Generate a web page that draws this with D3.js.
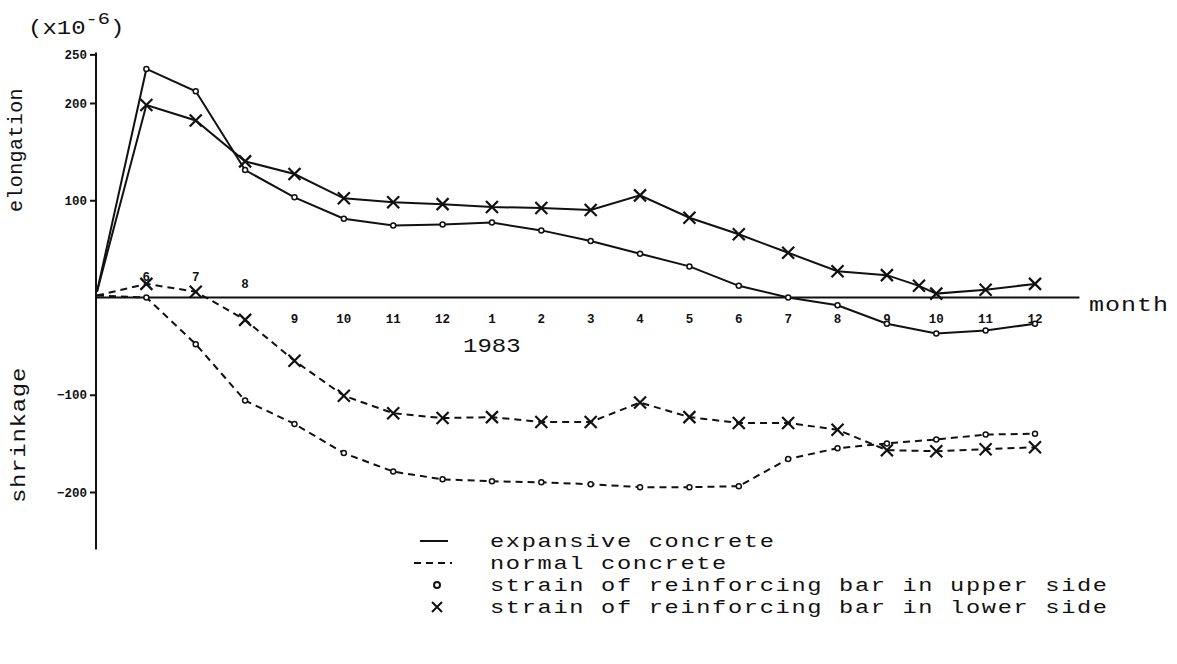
<!DOCTYPE html>
<html>
<head>
<meta charset="utf-8">
<script src="https://cdn.jsdelivr.net/npm/d3@7"></script>
<style>
  html, body { margin: 0; padding: 0; background: #fff; }
  svg { display: block; }
  text { font-family: "Liberation Mono", "DejaVu Sans Mono", monospace; fill: #111; }
</style>
</head>
<body>
<svg id="chart" width="1177" height="664"></svg>
<script>
// ---- data ----
// month index: 0 = start (May 1982), 1 = June 1982 ... 19 = Dec 1983
const monthLabels = ["6","7","8","9","10","11","12","1","2","3","4","5","6","7","8","9","10","11","12"];
const monthIndex  = d3.range(1, 20);
const yTicks = [250, 200, 100, -100, -200];

const expUpperX = d3.range(0, 20);
const expUpper  = [6, 235, 212, 131, 103, 81, 74, 75, 77, 69, 58, 45, 32, 12, 0, -8, -27, -37, -34, -27];

const expLowerX = [0,1,2,3,4,5,6,7,8,9,10,11,12,13,14,15,16,16.65,17,18,19];
const expLower  = [6, 198, 182, 140, 127, 102, 98, 96, 93, 92, 90, 105, 82, 65, 46, 27, 23, 12, 4, 8, 14];

const normUpperX = d3.range(0, 20);
const normUpper  = [2, 0, -48, -106, -130, -160, -179, -187, -189, -190, -192, -195, -195, -194, -166, -155, -150, -146, -141, -140];

const normLowerX = d3.range(0, 20);
const normLower  = [2, 14, 6, -23, -65, -101, -119, -124, -123, -128, -128, -108, -123, -129, -129, -136, -157, -158, -156, -154];

const legendItems = ["expansive concrete", "normal concrete",
  "strain of reinforcing bar in upper side", "strain of reinforcing bar in lower side"];

// ---- drawing ----
const svg = d3.select("#chart");
const x = d3.scaleLinear().domain([0, 19]).range([97, 1035]);
const y = d3.scaleLinear().domain([-200, 200]).range([492, 103]);
const ink = "#111";

// typewriter-like text helper: horizontally stretched monospace
function tw(parent, px, py, str, size, sx, ls, anchor) {
  return parent.append("text")
    .attr("transform", `translate(${px},${py}) scale(${sx},1)`)
    .attr("font-size", size).attr("letter-spacing", ls)
    .attr("text-anchor", anchor || "start").text(str);
}

// y axis
const yAxis = d3.axisLeft(y).tickValues(yTicks).tickSize(6).tickSizeOuter(0).tickFormat(d3.format("d"));
const gy = svg.append("g").attr("transform", `translate(${x(0) - 1},0)`).call(yAxis);
gy.select(".domain").attr("d", `M0,${y(252)}V${y(-259)}`).attr("stroke", ink).attr("stroke-width", 2);
gy.selectAll(".tick line").attr("stroke", ink).attr("stroke-width", 2);
gy.selectAll(".tick text").attr("font-size", 12.5).attr("font-weight", "bold")
  .attr("font-family", "Liberation Mono").attr("fill", ink).attr("x", -9);

// x axis (zero line)
svg.append("line").attr("x1", x(0) - 2).attr("x2", x(19.9)).attr("y1", y(0)).attr("y2", y(0))
  .attr("stroke", ink).attr("stroke-width", 2.2);

// month labels
svg.append("g").selectAll("text").data(monthIndex).join("text")
  .attr("x", d => x(d))
  .attr("y", d => d <= 3 ? y(0) - (d === 3 ? 10 : 17) : y(0) + 25)
  .attr("text-anchor", "middle")
  .attr("font-size", 12.5).attr("font-weight", "bold")
  .text((d, i) => monthLabels[i]);

tw(svg, 463, 352, "1983", 20, 1.2, 0);
tw(svg, 1089, 311, "month", 20, 1.25, 0.8);

// unit and axis titles
const unit = svg.append("text").attr("transform", "translate(28,34) scale(1.2,1)").attr("font-size", 20);
unit.append("tspan").text("(x10");
unit.append("tspan").attr("dy", -10).attr("font-size", 17).text("-6");
unit.append("tspan").attr("dy", 10).text(")");

svg.append("text").attr("transform", "translate(22,150) rotate(-90)")
  .attr("text-anchor", "middle").attr("font-size", 20).attr("letter-spacing", 0.4).text("elongation");
svg.append("text").attr("transform", "translate(25,435) rotate(-90) scale(1.2,1)")
  .attr("text-anchor", "middle").attr("font-size", 20).attr("letter-spacing", 0.6).text("shrinkage");

// lines
function series(xs, vs) { return xs.map((d, i) => [d, vs[i]]); }
const line = d3.line().x(d => x(d[0])).y(d => y(d[1]));
const sets = [
  {data: series(expUpperX, expUpper), dash: null, mark: "o"},
  {data: series(expLowerX, expLower), dash: null, mark: "x"},
  {data: series(normUpperX, normUpper), dash: "7,5", mark: "o"},
  {data: series(normLowerX, normLower), dash: "7,5", mark: "x"}
];
sets.forEach(s => {
  svg.append("path").datum(s.data).attr("d", line)
    .attr("fill", "none").attr("stroke", ink).attr("stroke-width", 2)
    .attr("stroke-dasharray", s.dash);
  const pts = s.data.slice(1);
  if (s.mark === "o") {
    svg.append("g").selectAll("circle").data(pts).join("circle")
      .attr("cx", d => x(d[0])).attr("cy", d => y(d[1])).attr("r", 2.5)
      .attr("fill", "#fff").attr("stroke", ink).attr("stroke-width", 1.5);
  } else {
    const r = 6;
    svg.append("g").selectAll("path").data(pts).join("path")
      .attr("d", d => { const cx = x(d[0]), cy = y(d[1]);
        return `M${cx - r},${cy - r}L${cx + r},${cy + r}M${cx + r},${cy - r}L${cx - r},${cy + r}`; })
      .attr("stroke", ink).attr("stroke-width", 2.2).attr("fill", "none");
  }
});

// legend
const lg = svg.append("g");
const ly = [541, 563, 585, 607];
lg.append("line").attr("x1", 420).attr("x2", 448).attr("y1", ly[0]).attr("y2", ly[0]).attr("stroke", ink).attr("stroke-width", 2);
lg.append("line").attr("x1", 414).attr("x2", 452).attr("y1", ly[1]).attr("y2", ly[1]).attr("stroke", ink).attr("stroke-width", 2).attr("stroke-dasharray", "7,5");
lg.append("circle").attr("cx", 437).attr("cy", ly[2]).attr("r", 3).attr("fill", "#fff").attr("stroke", ink).attr("stroke-width", 2);
lg.append("path").attr("d", `M432,${ly[3]-5}L442,${ly[3]+5}M442,${ly[3]-5}L432,${ly[3]+5}`).attr("stroke", ink).attr("stroke-width", 2);
legendItems.forEach((d, i) => tw(lg, 490, ly[i] + 6, d, 18.5, 1.28, 1.3));
</script>
</body>
</html>
